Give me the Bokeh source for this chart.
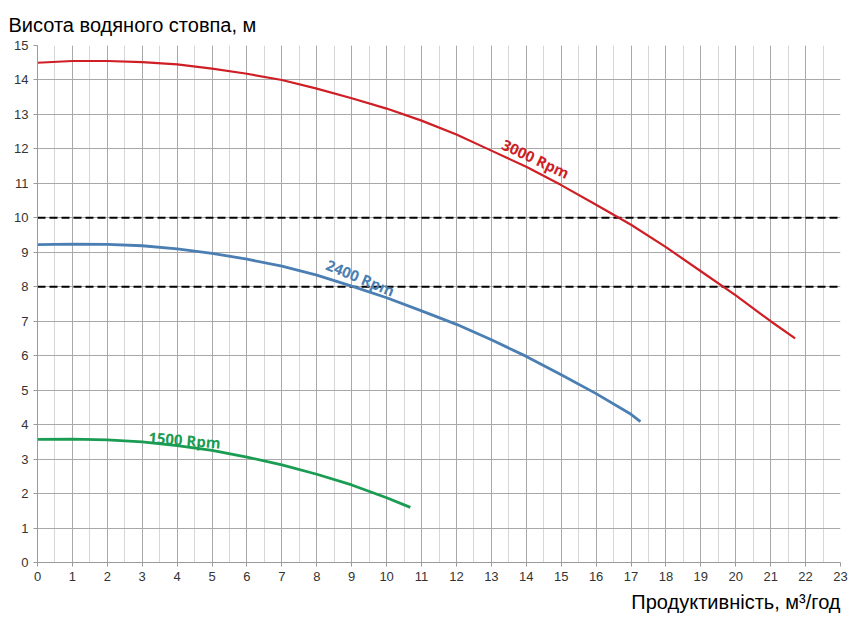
from bokeh.plotting import figure
from bokeh.models import Range1d, SingleIntervalTicker, Label, Title
from bokeh.embed import file_html
from bokeh.resources import INLINE
import math

# Pump head curves: flow Q (m3/h) vs head H (m)
q_3000 = [0, 1, 2, 3, 4, 5, 6, 7, 8, 9, 10, 11, 12, 13, 14, 15, 16, 17, 18, 19, 20, 21, 21.7]
h_3000 = [14.50, 14.55, 14.55, 14.52, 14.45, 14.33, 14.18, 14.00, 13.75, 13.47, 13.17, 12.82,
          12.42, 11.95, 11.48, 10.95, 10.38, 9.80, 9.15, 8.45, 7.75, 7.00, 6.50]

q_2400 = [0, 1, 2, 3, 4, 5, 6, 7, 8, 9, 10, 11, 12, 13, 14, 15, 16, 17, 17.27]
h_2400 = [9.22, 9.24, 9.23, 9.19, 9.10, 8.97, 8.80, 8.60, 8.34, 8.02, 7.68, 7.30, 6.91, 6.46,
          5.98, 5.45, 4.90, 4.30, 4.09]

q_1500 = [0, 1, 2, 3, 4, 5, 6, 7, 8, 9, 10, 10.68]
h_1500 = [3.57, 3.58, 3.56, 3.50, 3.39, 3.25, 3.06, 2.83, 2.56, 2.25, 1.88, 1.60]

# Dashed reference head levels
ref_levels = [10, 8]

x_ticks = list(range(0, 24))
y_ticks = list(range(0, 16))

RED = "#cf1f25"
BLUE = "#4b7fb3"
GREEN = "#1a9c52"
TEXT = "#333333"

p = figure(width=860, height=625, output_backend="svg", toolbar_location=None,
           x_range=Range1d(0, 23), y_range=Range1d(0, 15),
           min_border_left=37, min_border_right=20, min_border_top=45, min_border_bottom=63)
p.outline_line_color = None
p.background_fill_color = "white"
p.border_fill_color = "white"

p.xaxis.ticker = SingleIntervalTicker(interval=1, num_minor_ticks=2)
p.yaxis.ticker = SingleIntervalTicker(interval=1, num_minor_ticks=0)
for ax in (p.xaxis[0], p.yaxis[0]):
    ax.axis_line_color = "#9a9a9a"
    ax.major_tick_line_color = "#9a9a9a"
    ax.major_tick_out = 4
    ax.major_tick_in = 0
    ax.minor_tick_line_color = None
    ax.major_label_text_font = "Liberation Sans"
    ax.major_label_text_font_size = "13px"
    ax.major_label_text_color = TEXT
    ax.major_label_standoff = 5

p.xgrid.grid_line_color = "#a8a8a8"
p.xgrid.minor_grid_line_color = "#d6d6d6"
p.ygrid.grid_line_color = "#a8a8a8"

for lvl in ref_levels:
    p.line([x_ticks[0], x_ticks[-1]], [lvl, lvl], line_color="black", line_width=2,
           line_dash="8 4")

p.line(q_3000, h_3000, line_color=RED, line_width=2.2)
p.line(q_2400, h_2400, line_color=BLUE, line_width=2.8)
p.line(q_1500, h_1500, line_color=GREEN, line_width=2.8)

labels = [
    ("3000 Rpm", 14.27, 11.72, -25, RED),
    ("2400 Rpm", 9.25, 8.27, -22.5, BLUE),
    ("1500 Rpm", 4.21, 3.56, -4.5, GREEN),
]
for txt, x, y, ang, col in labels:
    p.add_layout(Label(x=x, y=y, text=txt, angle=math.radians(ang), text_align="center",
                       text_baseline="middle", text_font="Open Sans", text_font_style="bold",
                       text_font_size="15px", text_color=col))

p.add_layout(Title(text="Продуктивність, м³/год", align="right", text_font="Liberation Sans",
                   text_font_size="20px", text_font_style="normal", text_color="black",
                   offset=0, standoff=10), "below")
p.add_layout(Title(text="Висота водяного стовпа, м", align="left", text_font="Liberation Sans",
                   text_font_size="20px", text_font_style="normal", text_color="black",
                   offset=-29, standoff=20), "above")

open("out.html", "w").write(file_html(p, INLINE))
